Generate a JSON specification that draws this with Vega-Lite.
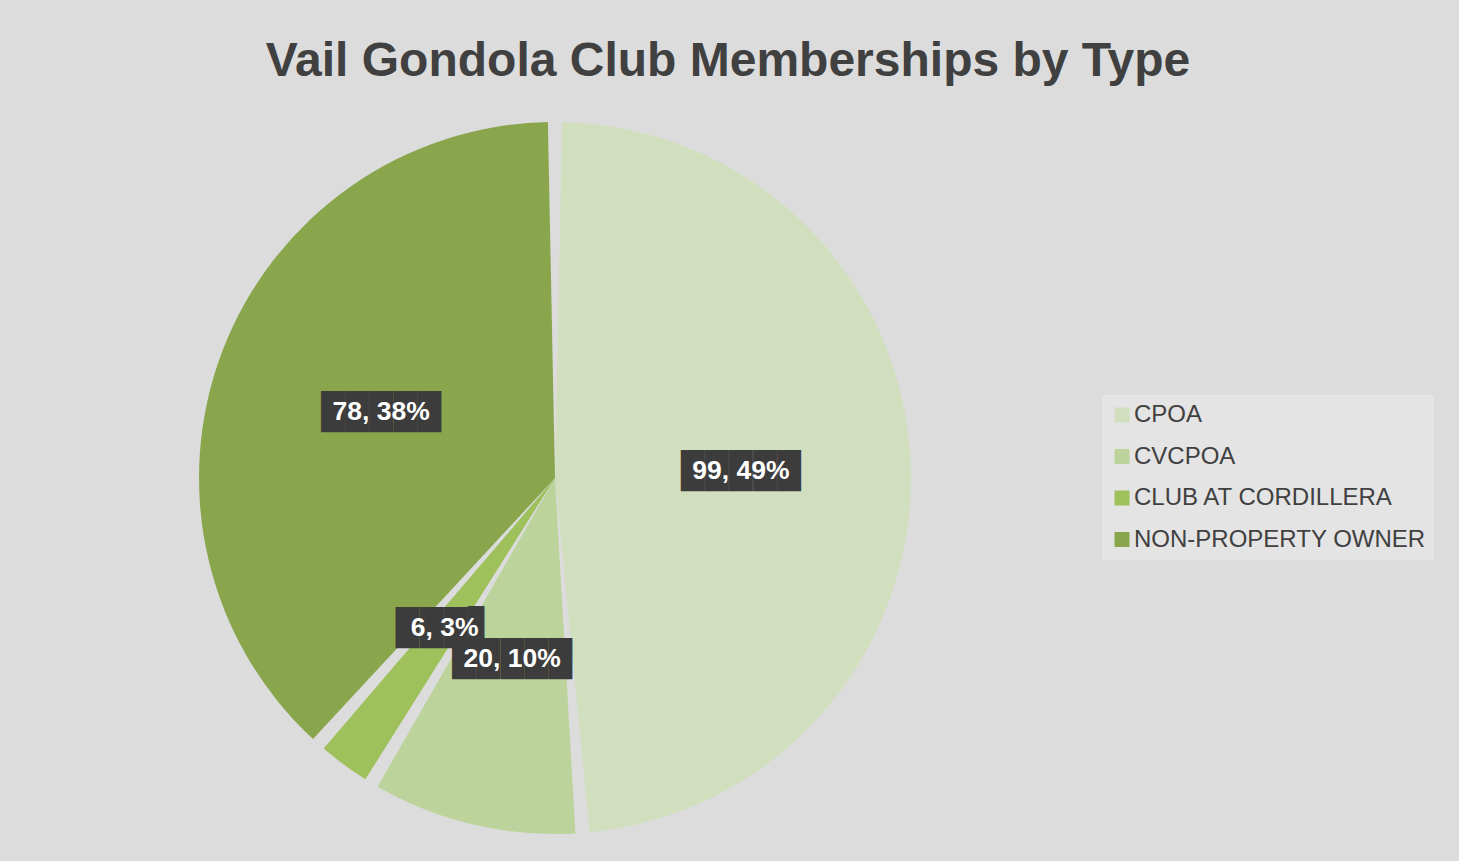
{
  "$schema": "https://vega.github.io/schema/vega-lite/v6.json",
  "autosize": "none",
  "width": 1110,
  "height": 764,
  "padding": {"left": 0, "top": 96, "right": 349, "bottom": 1},
  "background": "#dcdcdc",
  "title": {
    "text": "Vail Gondola Club Memberships by Type",
    "anchor": "middle",
    "dx": 173,
    "offset": 10,
    "font": "Liberation Sans",
    "fontSize": 48,
    "fontWeight": "bold",
    "color": "#404040"
  },
  "data": {
    "values": [
      {"type": "CPOA", "count": 99, "i": 1, "label": "99, 49%"},
      {"type": "CVCPOA", "count": 20, "i": 2, "label": "20, 10%"},
      {"type": "CLUB AT CORDILLERA", "count": 6, "i": 3, "label": "6, 3%"},
      {"type": "NON-PROPERTY OWNER", "count": 78, "i": 4, "label": "78, 38%"}
    ]
  },
  "encoding": {
    "theta": {"field": "count", "type": "quantitative", "stack": true},
    "order": {"field": "i", "type": "quantitative"}
  },
  "layer": [
    {
      "mark": {"type": "arc", "outerRadius": 356, "padAngle": 0.04, "stroke": null},
      "encoding": {
        "color": {
          "field": "type",
          "type": "nominal",
          "sort": ["CPOA", "CVCPOA", "CLUB AT CORDILLERA", "NON-PROPERTY OWNER"],
          "scale": {
            "domain": ["CPOA", "CVCPOA", "CLUB AT CORDILLERA", "NON-PROPERTY OWNER"],
            "range": ["#d1dfbe", "#bcd49b", "#9ec15b", "#89a64d"]
          },
          "legend": {
            "title": null,
            "orient": "none",
            "legendX": 1102,
            "legendY": 299,
            "fillColor": "#e4e4e4",
            "padding": 8,
            "symbolType": "square",
            "symbolSize": 225,
            "symbolStrokeWidth": 0,
            "labelFont": "Liberation Sans",
            "labelFontSize": 24,
            "labelColor": "#404040",
            "labelOffset": 0,
            "labelLimit": 400,
            "rowPadding": 17.5,
            "symbolOffset": 0
          }
        }
      }
    },
    {
      "mark": {"type": "text", "radius": 186, "font": "Liberation Sans", "fontSize": 34, "color": "#3c3c3c", "baseline": "middle", "align": "center"},
      "encoding": {
        "text": {
          "condition": {"test": "datum.type === 'CLUB AT CORDILLERA'", "value": "███▋"},
          "value": "█████"
        }
      }
    },
    {
      "mark": {"type": "text", "radius": 186, "font": "Liberation Sans", "fontSize": 26.5, "fontWeight": "bold", "color": "#ffffff", "baseline": "middle", "align": "center"},
      "encoding": {
        "text": {"field": "label", "type": "nominal"}
      }
    }
  ],
  "config": {"view": {"stroke": null}}
}
